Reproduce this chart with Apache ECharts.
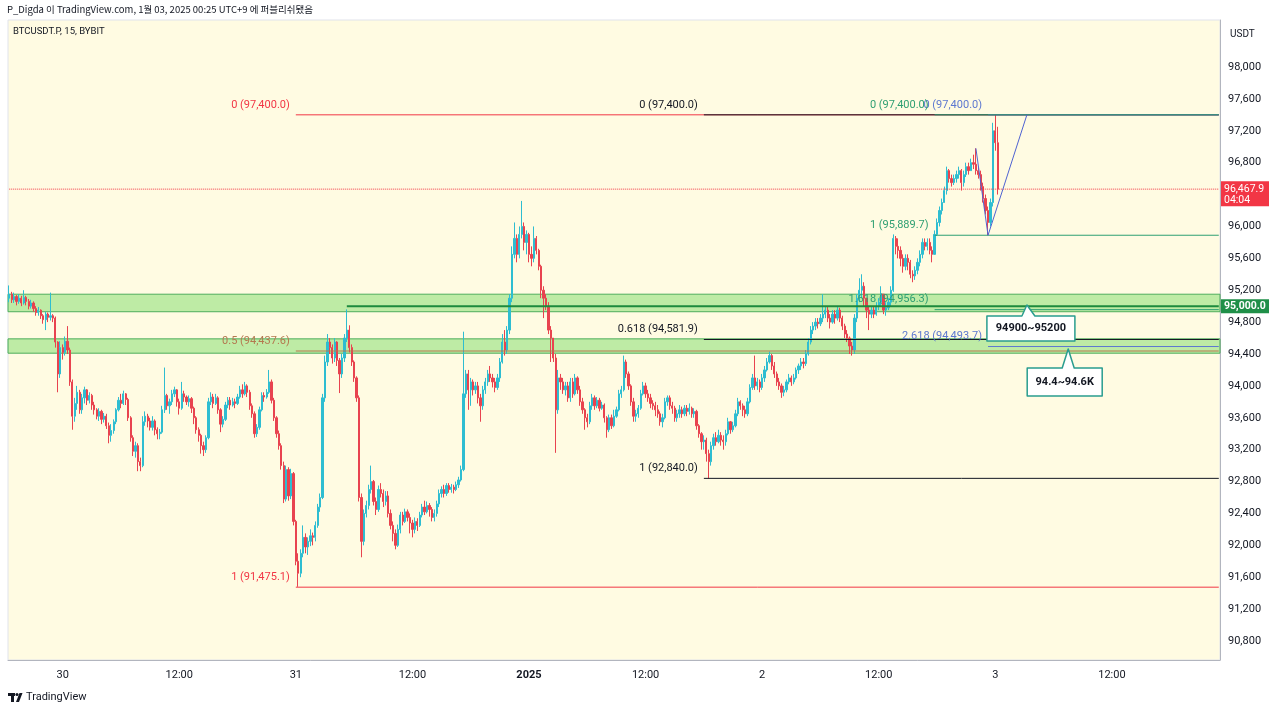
<!DOCTYPE html>
<html lang="ko">

<head>
    <meta charset="UTF-8">
    <meta name="viewport" content="width=device-width, initial-scale=1.0">
    <title>BTCUSDT.P, 15, BYBIT</title>
    <style>
        html, body { margin: 0; padding: 0; background: #fff; }
        #box { width: 1280px; height: 712px; }
    </style>
</head>

<body>
    <div id="box"></div>
</body>
<script src="https://cdn.jsdelivr.net/npm/echarts@6/dist/echarts.min.js"></script>
<script>
    // ---- candles, 15 min, first one is 12-29 18:30 (open of the very first candle below) ----
    var firstOpen = 95100;

    var dec29Close = [95150, 95080, 95120, 95060, 95100, 95040, 95110, 95060, 95000, 95040, 94970, 94920, 94950, 94880, 94830, 94900, 94860, 94880, 94850, 94550, 94150, 94480];
    var dec29High = [95260, 95180, 95170, 95140, 95150, 95130, 95200, 95130, 95090, 95080, 95060, 95000, 94990, 94960, 94900, 94930, 94920, 95170, 94900, 94870, 94560, 94560];
    var dec29Low = [95050, 95040, 95040, 95010, 95030, 95000, 95020, 95010, 94960, 94970, 94930, 94880, 94880, 94840, 94780, 94700, 94800, 94820, 94800, 94480, 93920, 94100];

    var dec30Close = [94420, 94560, 94450, 94050, 93620, 93780, 93920, 93700, 93850, 93950,
        93820, 93880, 93760, 93700, 93620, 93680, 93580, 93620, 93500, 93380,
        93440, 93550, 93700, 93820, 93780, 93900, 93830, 93600, 93350, 93180,
        93250, 93050, 93000, 93550, 93620, 93560, 93480, 93560, 93450, 93400,
        93420, 93700, 93880, 93750, 93800, 93900, 93950, 93800, 93720, 93900,
        93860, 93800, 93840, 93720, 93600, 93450, 93380, 93250, 93200, 93350,
        93800, 93860, 93780, 93850, 93700, 93520, 93580, 93760, 93820, 93760,
        93800, 93780, 93860, 93950, 93900, 94000, 93920, 93750, 93650, 93400,
        93480, 93700, 93880, 93860, 93920, 94050, 93820, 93600, 93400, 93250,
        93000, 92580, 92950, 92620, 92900, 92300];
    var dec30High = [94520, 94620, 94750, 94480, 94080, 93850, 94000, 93950, 93900, 93990,
        93960, 93920, 93900, 93800, 93720, 93720, 93700, 93660, 93650, 93540,
        93520, 93580, 93720, 93860, 93900, 93940, 93910, 93850, 93620, 93380,
        93300, 93280, 93100, 93620, 93680, 93650, 93600, 93620, 93580, 93480,
        93460, 93750, 94230, 93900, 93840, 93950, 93990, 93960, 93840, 94050,
        93940, 93880, 93880, 93860, 93740, 93620, 93480, 93400, 93300, 93380,
        93850, 93920, 93900, 93900, 93870, 93720, 93620, 93800, 93860, 93860,
        93850, 93840, 93900, 94000, 94020, 94050, 94020, 93950, 93780, 93680,
        93520, 93740, 93920, 93920, 93960, 94200, 94080, 93850, 93620, 93440,
        93280, 93050, 93000, 92980, 92960, 92920];
    var dec30Low = [94330, 94380, 94400, 94000, 93450, 93550, 93700, 93650, 93650, 93780,
        93760, 93780, 93700, 93640, 93580, 93560, 93520, 93540, 93460, 93280,
        93300, 93400, 93520, 93680, 93720, 93760, 93760, 93560, 93300, 93120,
        93100, 92930, 92930, 92980, 93500, 93480, 93440, 93440, 93380, 93330,
        93330, 93400, 93660, 93700, 93650, 93760, 93860, 93740, 93640, 93700,
        93800, 93760, 93740, 93660, 93520, 93400, 93300, 93150, 93120, 93160,
        93330, 93760, 93720, 93760, 93650, 93420, 93480, 93560, 93720, 93700,
        93740, 93720, 93760, 93840, 93850, 93880, 93860, 93700, 93600, 93350,
        93360, 93450, 93680, 93800, 93840, 93900, 93780, 93560, 93350, 93200,
        92950, 92530, 92550, 92560, 92580, 92250];

    var dec31Close = [91800, 91650, 91900, 92100, 91980, 92050, 92120, 92100, 92250, 92480,
        92600, 93850, 94300, 94550, 94480, 94350, 94550, 94320, 94150, 94350,
        94600, 94700, 94480, 94300, 94100, 93850, 92600, 92050, 92400, 92500,
        92700, 92800, 92550, 92450, 92700, 92650, 92550, 92620, 92400, 92250,
        92150, 92000, 92200, 92380, 92300, 92420, 92350, 92280, 92200, 92300,
        92250, 92380, 92480, 92420, 92500, 92450, 92350, 92400, 92520, 92650,
        92700, 92650, 92750, 92700, 92730, 92700, 92760, 92820, 92950, 93900,
        94150, 93950, 94050, 93950, 94000, 93850, 93750, 93950, 94050, 94150,
        94100, 94050, 93980, 94100, 94300, 94550, 94450, 94700, 95100, 95650,
        95850, 95650, 95900, 96000, 95800, 95900];
    var dec31High = [92320, 91900, 91950, 92250, 92150, 92100, 92200, 92160, 92300, 92520,
        92650, 93900, 94380, 94650, 94600, 94520, 94600, 94560, 94350, 94400,
        94650, 94960, 94760, 94520, 94320, 94120, 93880, 92650, 92450, 92560,
        92760, 93000, 92820, 92600, 92750, 92780, 92700, 92680, 92680, 92450,
        92300, 92200, 92260, 92420, 92420, 92460, 92450, 92400, 92320, 92350,
        92340, 92420, 92520, 92560, 92550, 92530, 92480, 92450, 92560, 92700,
        92740, 92760, 92780, 92780, 92770, 92760, 92800, 92860, 93000, 94680,
        94200, 94200, 94100, 94080, 94050, 94050, 93900, 94000, 94100, 94200,
        94250, 94150, 94100, 94150, 94350, 94650, 94700, 94750, 95150, 95750,
        96050, 95900, 96000, 96320, 96050, 95950];
    var dec31Low = [91750, 91480, 91600, 91850, 91900, 91880, 91990, 92000, 92050, 92220,
        92420, 92580, 93800, 94250, 94400, 94280, 94300, 94250, 93910, 94100,
        94300, 94550, 94420, 94250, 94050, 93800, 92550, 91850, 92000, 92350,
        92450, 92650, 92500, 92380, 92420, 92600, 92480, 92500, 92350, 92200,
        92050, 91950, 91980, 92150, 92250, 92280, 92300, 92150, 92100, 92150,
        92180, 92230, 92350, 92380, 92400, 92360, 92300, 92300, 92360, 92480,
        92600, 92600, 92620, 92660, 92660, 92650, 92680, 92720, 92800, 92930,
        93850, 93700, 93750, 93880, 93900, 93780, 93550, 93700, 93900, 94000,
        94050, 93980, 93920, 93950, 94050, 94280, 94380, 94400, 94650, 95050,
        95600, 95550, 95600, 95850, 95700, 95650];

    var jan1Close = [95650, 95600, 95850, 95700, 95500, 95200, 95100, 95000, 94700, 94600,
        94350, 93700, 94100, 94050, 93950, 94000, 93850, 94050, 93900, 94100,
        93950, 93800, 93700, 93600, 93550, 93750, 93850, 93750, 93820, 93720,
        93760, 93600, 93450, 93600, 93500, 93620, 93700, 93900, 93950, 94300,
        94150, 94000, 93800, 93620, 93650, 93720, 93900, 94000, 93900, 93850,
        93780, 93750, 93700, 93650, 93550, 93600, 93800, 93850, 93750, 93720,
        93600, 93650, 93700, 93650, 93720, 93680, 93720, 93650, 93680, 93500,
        93400, 93300, 93320, 93150, 93050, 93250, 93350, 93300, 93380, 93320,
        93300, 93400, 93550, 93450, 93500, 93650, 93800, 93750, 93700, 93650,
        93800, 93980, 94100, 94000, 94050, 93980];
    var jan1High = [95920, 95750, 96000, 95880, 95720, 95520, 95250, 95150, 95050, 94750,
        94600, 94400, 94200, 94150, 94100, 94050, 94050, 94100, 94100, 94150,
        94120, 94000, 93850, 93720, 93650, 93800, 93900, 93880, 93860, 93850,
        93800, 93780, 93620, 93640, 93640, 93700, 93740, 93950, 94000, 94380,
        94330, 94180, 94020, 93850, 93700, 93760, 93950, 94050, 94040, 93950,
        93900, 93820, 93800, 93760, 93680, 93650, 93850, 93880, 93880, 93800,
        93750, 93700, 93760, 93740, 93760, 93760, 93780, 93740, 93720, 93700,
        93520, 93420, 93380, 93350, 93200, 93300, 93400, 93420, 93450, 93420,
        93380, 93450, 93600, 93560, 93550, 93700, 93850, 93820, 93780, 93750,
        93850, 94020, 94150, 94380, 94100, 94080];
    var jan1Low = [95550, 95500, 95550, 95650, 95450, 95100, 94850, 94950, 94650, 94300,
        94300, 93160, 93650, 93950, 93900, 93880, 93800, 93800, 93850, 93880,
        93900, 93750, 93650, 93450, 93480, 93520, 93700, 93700, 93720, 93680,
        93700, 93540, 93350, 93420, 93460, 93480, 93600, 93680, 93850, 93930,
        94100, 93950, 93750, 93550, 93550, 93600, 93700, 93880, 93850, 93800,
        93720, 93700, 93620, 93600, 93500, 93480, 93580, 93750, 93700, 93650,
        93550, 93550, 93600, 93600, 93620, 93620, 93640, 93600, 93600, 93450,
        93350, 93200, 93200, 93050, 92840, 93000, 93200, 93250, 93280, 93250,
        93200, 93250, 93380, 93400, 93420, 93480, 93620, 93700, 93620, 93600,
        93620, 93780, 93950, 93950, 93950, 93920];

    var jan2Close = [94100, 94200, 94300, 94380, 94250, 94150, 94050, 94000, 93920, 93950,
        94050, 94100, 94050, 94100, 94200, 94250, 94300, 94280, 94400, 94550,
        94700, 94750, 94800, 94780, 94850, 94900, 94950, 94850, 94800, 94900,
        94850, 94950, 94850, 94750, 94650, 94600, 94500, 94450, 94850, 95100,
        95200, 95250, 95100, 94950, 94900, 94950, 94900, 95000, 95050, 95150,
        94950, 94980, 95050, 95200, 95850, 95750, 95700, 95600, 95500, 95600,
        95550, 95400, 95380, 95450, 95550, 95650, 95800, 95750, 95800, 95700,
        95650, 95900, 96050, 96200, 96300, 96450, 96700, 96600, 96550, 96600,
        96650, 96700, 96550, 96650, 96750, 96700, 96800, 96780, 96700, 96650,
        96500, 96350, 96200, 96050, 96300, 97200];
    var jan2High = [94150, 94250, 94350, 94430, 94400, 94300, 94180, 94100, 94030, 94000,
        94080, 94150, 94130, 94150, 94230, 94280, 94350, 94350, 94450, 94600,
        94750, 94800, 94850, 94850, 94900, 95150, 95000, 95000, 94900, 94950,
        94950, 95000, 94980, 94880, 94780, 94700, 94620, 94550, 94900, 95150,
        95350, 95400, 95300, 95100, 95000, 95000, 95000, 95050, 95100, 95250,
        95150, 95050, 95100, 95250, 95900, 95880, 95850, 95750, 95650, 95650,
        95650, 95580, 95450, 95500, 95600, 95700, 95850, 95850, 95850, 95850,
        95750, 95950, 96100, 96250, 96350, 96500, 96750, 96720, 96650, 96650,
        96700, 96750, 96720, 96700, 96800, 96800, 96850, 96900, 96980, 96750,
        96700, 96550, 96400, 96250, 96350, 97300];
    var jan2Low = [93950, 94050, 94180, 94280, 94200, 94100, 94000, 93950, 93850, 93870,
        93920, 94020, 94000, 94020, 94080, 94150, 94200, 94220, 94250, 94380,
        94520, 94650, 94700, 94720, 94750, 94800, 94850, 94800, 94720, 94780,
        94780, 94820, 94800, 94700, 94600, 94550, 94400, 94380, 94400, 94800,
        95050, 95100, 95000, 94850, 94700, 94850, 94850, 94880, 94950, 95000,
        94900, 94880, 94950, 95000, 95180, 95650, 95600, 95500, 95420, 95450,
        95450, 95350, 95300, 95330, 95400, 95500, 95600, 95700, 95700, 95650,
        95550, 95650, 95880, 96000, 96150, 96300, 96400, 96550, 96500, 96520,
        96550, 96600, 96450, 96500, 96620, 96650, 96700, 96720, 96650, 96600,
        96450, 96300, 96150, 95890, 96000, 96250];

    var jan3Close = [97050, 96467.9];
    var jan3High = [97400, 97250];
    var jan3Low = [96950, 96400];

    // ---- drawings on the chart (anchor = candle slot index, price) ----
    var redFibStart = 118;
    var redFibLevels = [[0, 97400.0], [0.5, 94437.6], [1, 91475.1]];
    var blackFibStart = 286;
    var blackFibLevels = [[0, 97400.0], [0.618, 94581.9], [1, 92840.0]];
    var blueFibStart = 403;
    var blueFibLevels = [[0, 97400.0], [2.618, 94493.7]];
    var greenFibStart = 381;
    var greenFibLevels = [[0, 97400.0], [1, 95889.7], [1.618, 94956.3]];
    var trendPoints = [[398, 96980], [403, 95889.7], [419, 97400]];
    var zones = [[94930, 95150], [94410, 94590]];
    var keyLevel = 95000;
    var keyLevelStart = 139;
    var lastPrice = 96467.9;
    var countdown = '04:04';
    var callouts = [
        { text: '94900~95200', at: [419, 95015] },
        { text: '94.4~94.6K', at: [436, 94463] }
    ];
    var yTicks = [90800, 91200, 91600, 92000, 92400, 92800, 93200, 93600, 94000, 94400, 94800, 95200, 95600, 96000, 96400, 96800, 97200, 97600, 98000];

    var slotCount = 499;
    var lastSlot = slotCount - 1;

    var closes = [].concat(dec29Close, dec30Close, dec31Close, jan1Close, jan2Close, jan3Close);
    var highs = [].concat(dec29High, dec30High, dec31High, jan1High, jan2High, jan3High);
    var lows = [].concat(dec29Low, dec30Low, dec31Low, jan1Low, jan2Low, jan3Low);

    var candles = [];
    closes.forEach(function (c, i) {
        var o = i === 0 ? firstOpen : closes[i - 1];
        candles.push([o, c, lows[i], highs[i]]);
    });

    // slot labels
    var t0 = Date.UTC(2024, 11, 29, 18, 30);
    var times = [];
    function p2(n) { return (n < 10 ? '0' : '') + n; }
    for (var i = 0; i < slotCount; i++) {
        var d = new Date(t0 + i * 15 * 60000);
        times.push(d.getUTCFullYear() + '-' + p2(d.getUTCMonth() + 1) + '-' + p2(d.getUTCDate()) + ' ' + p2(d.getUTCHours()) + ':' + p2(d.getUTCMinutes()));
    }

    function fmt(v, dec) {
        var s = v.toFixed(dec);
        var parts = s.split('.');
        parts[0] = parts[0].replace(/\B(?=(\d{3})+(?!\d))/g, ',');
        return parts.join('.');
    }

    var FONT = 'Roboto, "Noto Sans", sans-serif';
    var UP = '#2ebdd1', DOWN = '#e8434f';

    // every drawn line is a small 2-point line series
    var drawSeries = [];
    function addLine(color, width, type, pts) {
        drawSeries.push({
            type: 'line',
            data: pts,
            symbol: 'none',
            silent: true,
            z: 4,
            itemStyle: { color: color },
            lineStyle: { color: color, width: width, type: type },
            emphasis: { disabled: true }
        });
    }

    var fibLabels = [];
    function addFib(start, levels, colors) {
        levels.forEach(function (lv, k) {
            addLine(colors[k], 1, 'solid', [[start, lv[1]], [lastSlot, lv[1]]]);
            fibLabels.push({
                coord: [start, lv[1]],
                value: lv[0] + ' (' + fmt(lv[1], 1) + ')',
                label: { color: colors[k] }
            });
        });
    }

    addLine('#f23645', 1, 'dotted', [[0, lastPrice], [lastSlot, lastPrice]]);
    addFib(redFibStart, redFibLevels, ['#f23645', '#b4784f', '#f23645']);
    addFib(blackFibStart, blackFibLevels, ['#131722', '#131722', '#131722']);
    addFib(blueFibStart, blueFibLevels, ['#5d78d0', '#5d78d0']);
    addFib(greenFibStart, greenFibLevels, ['#2e9f72', '#2e9f72', '#2e9f72']);
    addLine('#1d8a3d', 2, 'solid', [[keyLevelStart, keyLevel], [lastSlot, keyLevel]]);
    addLine('#4f63d2', 1, 'solid', trendPoints);

    var box = echarts.init(document.getElementById('box'));
    var option = {
        backgroundColor: '#ffffff',
        animation: false,
        textStyle: { fontFamily: FONT },
        grid: {
            left: 8, right: 60, top: 20, bottom: 52,
            show: true, backgroundColor: '#fffbe2', borderColor: '#e0e3eb', borderWidth: 1
        },
        xAxis: {
            type: 'category',
            data: times,
            boundaryGap: true,
            axisLine: { show: true, lineStyle: { color: '#b2b5be' } },
            axisTick: { show: false },
            splitLine: { show: false },
            axisLabel: {
                color: '#131722',
                fontSize: 11,
                margin: 10,
                interval: function (idx, val) {
                    var hm = val.slice(11);
                    return hm === '00:00' || hm === '12:00';
                },
                formatter: function (val) {
                    var hm = val.slice(11);
                    if (hm === '12:00') return '12:00';
                    if (val.slice(5, 10) === '01-01') return '{b|2025}';
                    return String(parseInt(val.slice(8, 10), 10));
                },
                rich: { b: { fontWeight: 'bold', fontSize: 11, color: '#131722' } }
            }
        },
        yAxis: {
            type: 'value',
            position: 'right',
            min: 90561.7,
            max: 98589.5,
            axisLine: { show: true, lineStyle: { color: '#b2b5be' } },
            axisTick: { show: false },
            splitLine: { show: false },
            axisLabel: {
                color: '#131722',
                fontSize: 11,
                margin: 8,
                customValues: yTicks,
                formatter: function (v) { return fmt(v, 0); }
            }
        },
        series: [
            {
                name: 'BTCUSDT.P',
                type: 'candlestick',
                data: candles,
                barWidth: '72%',
                itemStyle: {
                    color: UP, color0: DOWN,
                    borderColor: UP, borderColor0: DOWN,
                    borderWidth: 1
                },
                z: 2
            },
            {
                name: 'zones',
                type: 'line',
                data: [],
                z: 3,
                silent: true,
                markArea: {
                    silent: true,
                    itemStyle: { color: 'rgba(110,215,90,0.45)', borderColor: '#4fae5c', borderWidth: 1 },
                    data: zones.map(function (z) { return [{ yAxis: z[1] }, { yAxis: z[0] }]; })
                }
            },
            {
                name: 'fib labels',
                type: 'line',
                data: [],
                z: 5,
                silent: true,
                markPoint: {
                    silent: true,
                    symbol: 'circle',
                    symbolSize: 0,
                    label: {
                        show: true,
                        position: 'left',
                        distance: 6,
                        offset: [0, -10],
                        fontSize: 11,
                        fontFamily: FONT,
                        formatter: function (p) { return p.value; }
                    },
                    data: fibLabels
                }
            }
        ].concat(drawSeries)
    };
    box.setOption(option);

    // text, price tags and callouts drawn on top
    function overlays() {
        var g = [];
        g.push({
            type: 'text', left: 7, top: 5, z: 50,
            style: { text: 'P_Digda 이 TradingView.com, 1월 03, 2025 00:25 UTC+9 에 퍼블리쉬됐음', fill: '#131722', font: '9.5px "Noto Sans CJK KR", "Noto Sans", sans-serif' }
        });
        g.push({
            type: 'text', left: 13, top: 27, z: 50,
            style: { text: 'BTCUSDT.P, 15, BYBIT', fill: '#131722', font: '9.5px ' + FONT }
        });
        g.push({
            type: 'text', left: 1230, top: 29, z: 50,
            style: { text: 'USDT', fill: '#131722', font: '10px ' + FONT }
        });

        var pc = box.convertToPixel({ gridIndex: 0 }, [0, lastPrice]);
        g.push({ type: 'rect', z: 50, shape: { x: 1221, y: pc[1] - 8, width: 48, height: 25 }, style: { fill: '#f23645' } });
        g.push({ type: 'text', z: 51, x: 1224, y: pc[1], style: { text: fmt(lastPrice, 1), fill: '#fff', font: '10.5px ' + FONT, textVerticalAlign: 'middle' } });
        g.push({ type: 'text', z: 51, x: 1224, y: pc[1] + 11, style: { text: countdown, fill: '#fff', font: '10.5px ' + FONT, textVerticalAlign: 'middle' } });

        var pk = box.convertToPixel({ gridIndex: 0 }, [0, keyLevel]);
        g.push({ type: 'rect', z: 50, shape: { x: 1221, y: pk[1] - 7, width: 48, height: 14 }, style: { fill: '#1f8f48' } });
        g.push({ type: 'text', z: 51, x: 1224, y: pk[1], style: { text: fmt(keyLevel, 1), fill: '#fff', font: 'bold 10.5px ' + FONT, textVerticalAlign: 'middle' } });

        var boxes = [
            { dx: -40, dy: 11, w: 88, h: 25, bl: -5, br: 8 },
            { dx: -41, dy: 19, w: 75, h: 28, bl: -6, br: 6 }
        ];
        callouts.forEach(function (c, n) {
            var t = box.convertToPixel({ gridIndex: 0 }, c.at);
            var b = boxes[n];
            var x0 = t[0] + b.dx, y0 = t[1] + b.dy, x1 = x0 + b.w, y1 = y0 + b.h;
            g.push({
                type: 'polygon',
                shape: { points: [[x0, y0], [t[0] + b.bl, y0], [t[0], t[1]], [t[0] + b.br, y0], [x1, y0], [x1, y1], [x0, y1]] },
                style: { fill: '#ffffff', stroke: '#2a9d8f', lineWidth: 1.5, lineJoin: 'round' },
                z: 100
            });
            g.push({
                type: 'text', x: (x0 + x1) / 2, y: (y0 + y1) / 2, z: 101,
                style: { text: c.text, fill: '#131722', font: 'bold 11px ' + FONT, textAlign: 'center', textVerticalAlign: 'middle' }
            });
        });

        // logo
        g.push({ type: 'rect', shape: { x: 8, y: 693, width: 7, height: 3 }, style: { fill: '#131722' } });
        g.push({ type: 'rect', shape: { x: 11, y: 693, width: 3, height: 9 }, style: { fill: '#131722' } });
        g.push({ type: 'circle', shape: { cx: 17, cy: 694.5, r: 1.6 }, style: { fill: '#131722' } });
        g.push({ type: 'polygon', shape: { points: [[16, 702], [19.5, 693], [22.5, 693], [19, 702]] }, style: { fill: '#131722' } });
        g.push({
            type: 'text', left: 26, top: 692,
            style: { text: 'TradingView', fill: '#131722', font: '11px ' + FONT }
        });
        box.setOption({ graphic: g });
    }
    overlays();
</script>

</html>
